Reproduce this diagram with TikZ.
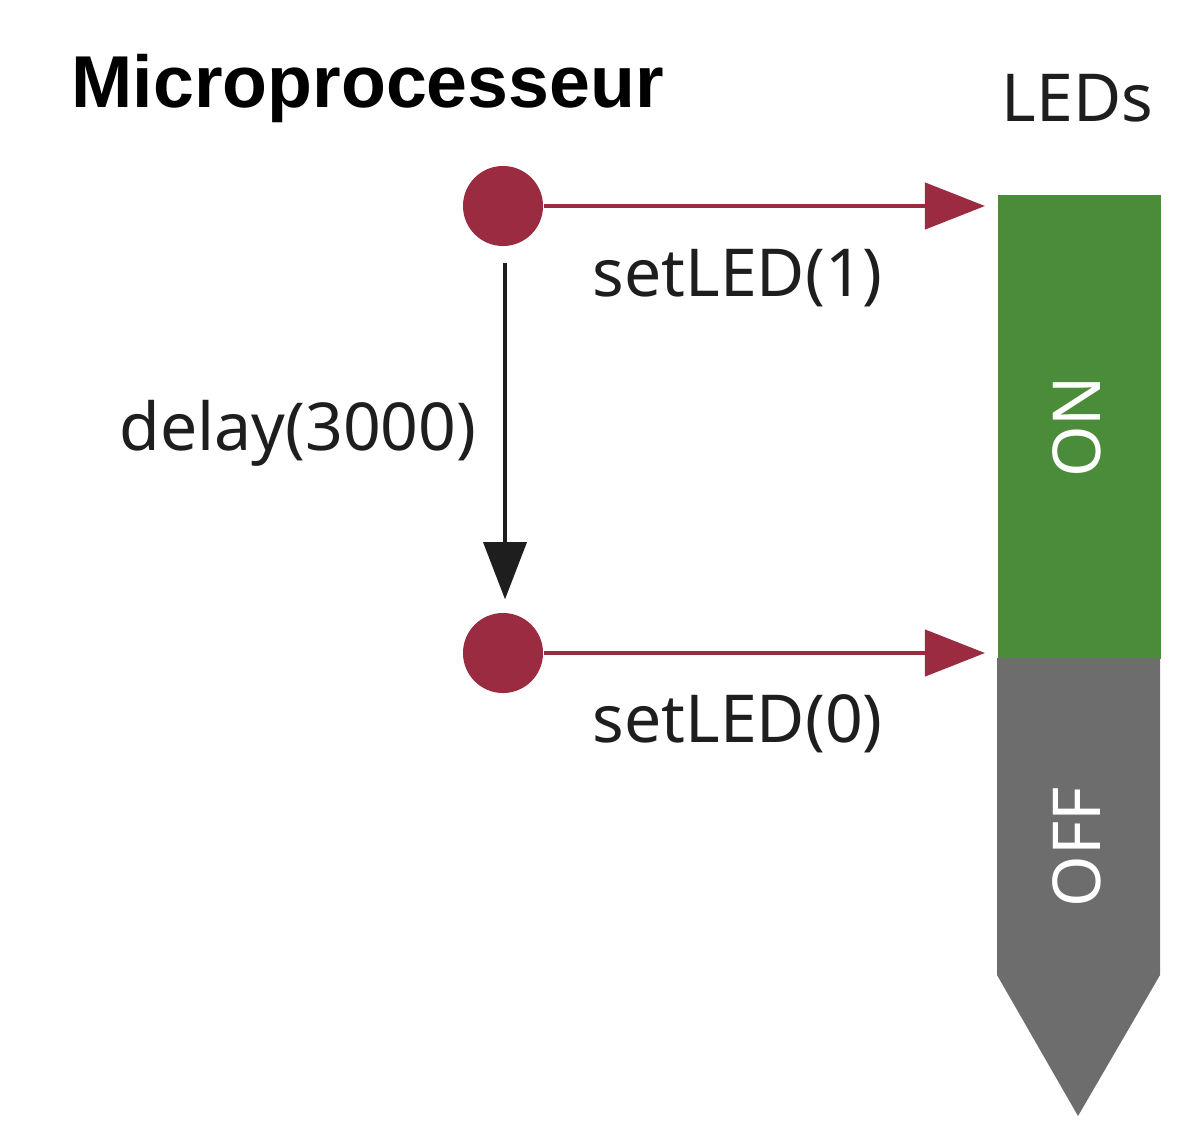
\documentclass[tikz,border=0pt]{standalone}
\usepackage{fontspec}
\setmainfont{Noto Sans}
\newfontfamily\titlefont{Liberation Sans}
\usetikzlibrary{arrows.meta}
\definecolor{dotred}{HTML}{9B2B40}
\definecolor{ledgreen}{HTML}{4A8C3A}
\definecolor{ledgray}{HTML}{6D6D6D}
\definecolor{txt}{HTML}{1E1E1E}
\begin{document}
\begin{tikzpicture}[x=0.01cm,y=-0.01cm,
  lbl/.style={text=txt,font=\fontsize{18.8}{22}\selectfont,inner sep=0pt,anchor=base west},
  dot/.style={circle,fill=dotred,minimum size=0.8cm,inner sep=0pt},
  redarrow/.style={draw=dotred,line width=1.25pt,-{Triangle[length=0.6cm,width=0.46cm]},shorten >=0.12cm},
  blackarrow/.style={draw=txt,line width=0.9pt,-{Triangle[length=0.57cm,width=0.43cm]}},
  vtext/.style={text=white,font=\fontsize{18.8}{22}\selectfont,rotate=90,inner sep=0pt}
]
\useasboundingbox[fill=white] (0,0) rectangle (1195,1130);
% title
\node[inner sep=0pt,anchor=base west,font=\titlefont\bfseries\fontsize{20.9}{24}\selectfont] (title) at (71,107) {Microprocesseur};
\node[lbl] (leds) at (1001,121) {LEDs};
% LED bar
\node[fill=ledgreen,minimum width=1.63cm,minimum height=4.64cm,inner sep=0pt,anchor=north west] (on) at (997,194) {};
\fill[ledgray] (997,658) -- (1160,658) -- (1160,975) -- (1078,1116) -- (997,975) -- cycle;
\node[vtext] (ontxt) at (1077,427) {ON};
\node[vtext] (offtxt) at (1077,847) {OFF};
% dots
\node[dot] (c1) at (503,206) {};
\node[dot] (c2) at (503,653) {};
% arrows
\draw[redarrow] (c1) -- (c1 -| on.west);
\draw[redarrow] (c2) -- (c2 -| on.west);
\draw[blackarrow,shorten <=0.16cm,shorten >=0.13cm] ([xshift=0.02cm]c1.south) -- ([xshift=0.02cm]c2.north);
% labels
\node[lbl] (s1) at (592,296) {setLED(1)};
\node[lbl] (s0) at (592,742) {setLED(0)};
\node[lbl] (dl) at (119,450) {delay(3000)};
\end{tikzpicture}
\end{document}
